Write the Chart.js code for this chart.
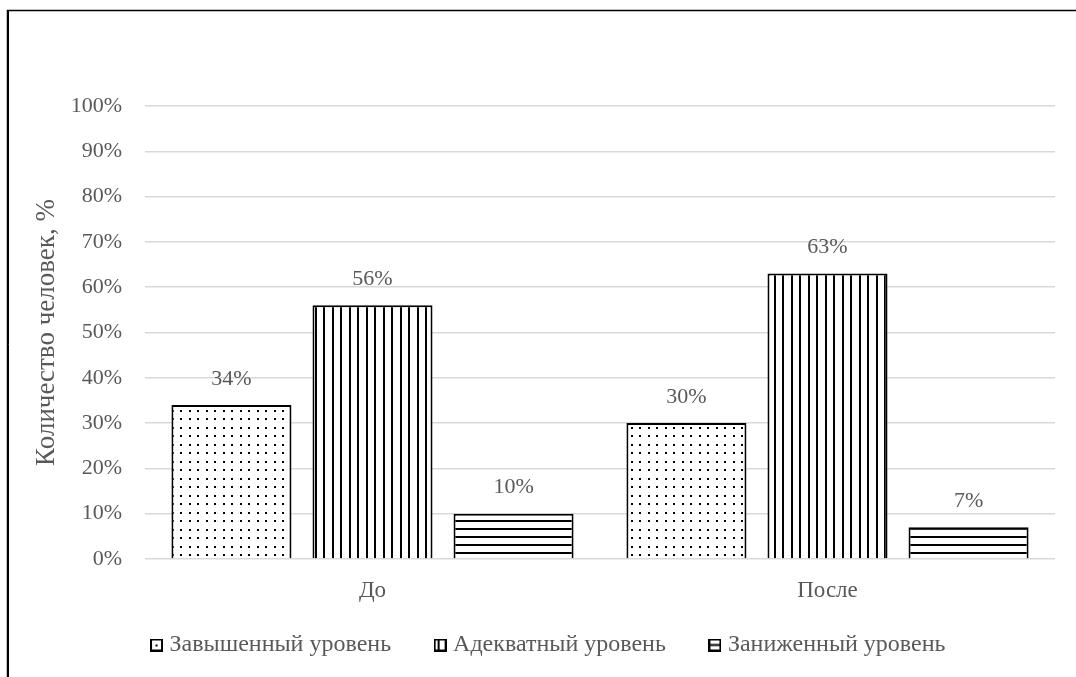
<!DOCTYPE html>
<html>
<head>
<meta charset="utf-8">
<script src="https://cdn.jsdelivr.net/npm/chart.js@4.4.1/dist/chart.umd.min.js"></script>
<style>
  html, body { margin: 0; padding: 0; background: #fff; }
  #wrap { width: 1076px; height: 677px; position: relative; }
</style>
</head>
<body>
<div id="wrap"><canvas id="c" width="1076" height="677"></canvas></div>
<script>
// ---- data ----
const categories = ['До', 'После'];
const seriesNames = ['Завышенный уровень', 'Адекватный уровень', 'Заниженный уровень'];
const zavyshennyi = [34, 30];
const adekvatnyi = [56, 63];
const zanizhennyi = [10, 7];
const yAxisTitle = 'Количество человек, %';
const yMin = 0, yMax = 100, yStep = 10;

const TEXT = '#595959';
const FONT = 'Liberation Serif';

function makePattern(kind) {
  const c = document.createElement('canvas');
  const x = c.getContext('2d');
  if (kind === 'dots') {
    c.width = 17; c.height = 17;
    x.fillStyle = '#fff'; x.fillRect(0, 0, 17, 17);
    x.fillStyle = '#000';
    [[2, 2], [10, 2], [2, 10], [10, 10]].forEach(p => x.fillRect(p[0], p[1], 2, 2));
  } else if (kind === 'vert') {
    c.width = 17; c.height = 4;
    x.fillStyle = '#fff'; x.fillRect(0, 0, 17, 4);
    x.fillStyle = '#000';
    x.fillRect(0, 0, 2, 4); x.fillRect(9, 0, 2, 4);
  } else {
    c.width = 4; c.height = 8;
    x.fillStyle = '#fff'; x.fillRect(0, 0, 4, 8);
    x.fillStyle = '#000';
    x.fillRect(0, 0, 4, 2);
  }
  return x.createPattern(c, 'repeat');
}

function makeIcon(kind) {
  const c = document.createElement('canvas');
  c.width = 13; c.height = 13;
  const x = c.getContext('2d');
  x.fillStyle = '#fff'; x.fillRect(0, 0, 13, 13);
  x.strokeStyle = '#000'; x.lineWidth = 2;
  x.strokeRect(1, 1, 11, 11);
  x.fillStyle = '#000';
  if (kind === 'dots') x.fillRect(5.5, 6, 2, 2);
  else if (kind === 'vert') x.fillRect(4, 1, 2, 11);
  else x.fillRect(1, 5.5, 11, 2);
  return c;
}

const kinds = ['dots', 'vert', 'horiz'];
const seriesData = [zavyshennyi, adekvatnyi, zanizhennyi];
const LEGEND_GAP = '     ';

const frame = {
  id: 'frame',
  beforeDraw(chart) {
    const ctx = chart.ctx;
    ctx.save();
    ctx.fillStyle = '#fff';
    ctx.fillRect(0, 0, chart.width, chart.height);
    ctx.strokeStyle = '#000';
    ctx.lineWidth = 1.5;
    ctx.beginPath();
    ctx.moveTo(7.5, 1000); ctx.lineTo(7.5, 10.5); ctx.lineTo(1200, 10.5);
    ctx.stroke();
    ctx.lineWidth = 1;
    ctx.beginPath(); ctx.moveTo(8.5, 1000); ctx.lineTo(8.5, 11); ctx.stroke();
    ctx.restore();
  }
};

const valueLabels = {
  id: 'valueLabels',
  afterDatasetsDraw(chart) {
    const ctx = chart.ctx;
    ctx.save();
    ctx.font = '22px "' + FONT + '"';
    ctx.fillStyle = TEXT;
    ctx.textAlign = 'center';
    ctx.textBaseline = 'middle';
    chart.data.datasets.forEach((ds, i) => {
      chart.getDatasetMeta(i).data.forEach((el, j) => {
        ctx.fillText(ds.data[j] + '%', el.x, el.y - 26);
      });
    });
    ctx.restore();
  }
};

new Chart(document.getElementById('c'), {
  type: 'bar',
  data: {
    labels: categories,
    datasets: seriesNames.map((name, i) => ({
      label: name,
      data: seriesData[i],
      backgroundColor: makePattern(kinds[i]),
      borderColor: '#000',
      borderWidth: 2,
      categoryPercentage: 0.93,
      barPercentage: 0.851
    }))
  },
  options: {
    responsive: false,
    animation: false,
    events: [],
    layout: { padding: { left: 46, right: 21, top: 106, bottom: 10 } },
    plugins: {
      tooltip: { enabled: false },
      legend: {
        position: 'bottom',
        labels: {
          color: TEXT,
          font: { family: FONT, size: 24 },
          usePointStyle: true,
          boxWidth: 2,
          padding: 18,
          generateLabels(chart) {
            const n = chart.data.datasets.length;
            return chart.data.datasets.map((ds, i) => ({
              text: ds.label + (i < n - 1 ? LEGEND_GAP : ''),
              pointStyle: makeIcon(kinds[i]),
              fillStyle: '#fff',
              strokeStyle: '#000',
              lineWidth: 0,
              fontColor: TEXT,
              hidden: false,
              datasetIndex: i
            }));
          }
        }
      }
    },
    scales: {
      x: {
        grid: { display: false, drawTicks: false },
        border: { display: false },
        ticks: { color: TEXT, font: { family: FONT, size: 23 }, padding: 18 },
        afterFit(s) { s.height = 56; }
      },
      y: {
        min: yMin, max: yMax,
        grid: { color: '#d9d9d9', lineWidth: 1.5, drawTicks: false },
        border: { display: false },
        ticks: {
          stepSize: yStep,
          color: TEXT,
          font: { family: FONT, size: 22 },
          padding: 23,
          callback: v => v + '%'
        },
        title: {
          display: true,
          text: yAxisTitle,
          color: TEXT,
          font: { family: FONT, size: 27 },
          padding: { top: -15, bottom: 0 }
        },
        afterFit(s) { s.width = 99; }
      }
    }
  },
  plugins: [frame, valueLabels]
});
</script>
</body>
</html>
